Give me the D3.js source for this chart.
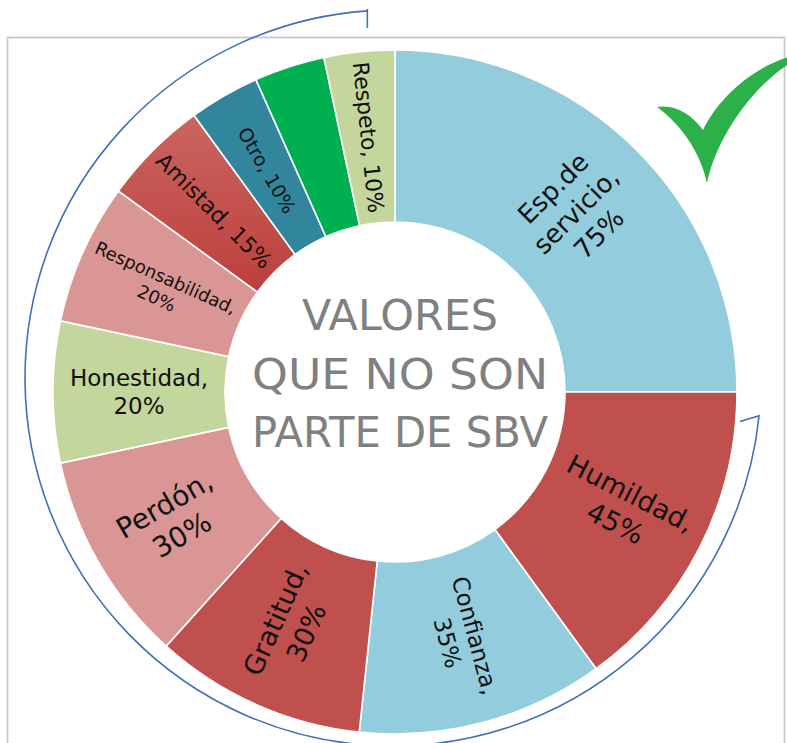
<!DOCTYPE html>
<html>
<head>
<meta charset="utf-8">
<script src="https://cdn.jsdelivr.net/npm/d3@7"></script>
<style>
  html, body { margin: 0; padding: 0; background: #ffffff; }
  svg { display: block; }
</style>
</head>
<body>
<svg id="chart" width="787" height="743"></svg>
<script>
// ---- data ----
const categories = ["Esp.de servicio", "Humildad", "Confianza", "Gratitud", "Perdón", "Honestidad",
                    "Responsabilidad", "Amistad", "Otro", "", "Respeto"];
const values = [75, 45, 35, 30, 30, 20, 20, 15, 10, 10, 10];
const nameLines = [["Esp.de", "servicio,"], ["Humildad,"], ["Confianza,"], ["Gratitud,"], ["Perdón,"],
                   ["Honestidad,"], ["Responsabilidad,"], ["Amistad,"], ["Otro,"], [], ["Respeto,"]];
const singleLine = [false, false, false, false, false, false, false, true, true, true, true];
const colors = ["#93CDDD", "#C0504D", "#93CDDD", "#C0504D", "#D99694", "#C3D69B",
                "#D99694", "url(#gradAmistad)", "#31859C", "#00B050", "#C3D69B"];
const fontSizes = [26, 27, 23, 27, 28, 23, 18, 22, 19, 0, 22];
const titleLines = ["VALORES", "QUE NO SON", "PARTE DE SBV"];

// ---- layout ----
const svg = d3.select("#chart");
const cx = 395, cy = 392;
const innerR = 170, outerR = 342;

const defs = svg.append("defs");
const g1 = defs.append("linearGradient").attr("id", "gradAmistad")
  .attr("x1", 0).attr("y1", 0).attr("x2", 0).attr("y2", 1);
g1.append("stop").attr("offset", "0%").attr("stop-color", "#CB6561");
g1.append("stop").attr("offset", "100%").attr("stop-color", "#BC3F3B");

// frame
svg.append("rect")
  .attr("x", 7.5).attr("y", 37.5).attr("width", 777).attr("height", 740)
  .attr("fill", "none").attr("stroke", "#c8c8c8").attr("stroke-width", 1.8);

const data = categories.map((c, i) => ({ name: c, value: values[i], i }));
const pie = d3.pie().value(d => d.value).sort(null).startAngle(0).endAngle(2 * Math.PI);
const arcs = pie(data);
const arc = d3.arc().innerRadius(innerR).outerRadius(outerR);

const gChart = svg.append("g").attr("transform", `translate(${cx},${cy})`);

gChart.selectAll("path.slice")
  .data(arcs)
  .join("path")
  .attr("class", "slice")
  .attr("d", arc)
  .attr("fill", d => colors[d.data.i])
  .attr("stroke", "#ffffff")
  .attr("stroke-width", 1.6);

// labels
const labelGroups = gChart.selectAll("g.label")
  .data(arcs.filter(d => d.data.name !== ""))
  .join("g")
  .attr("class", "label")
  .attr("transform", d => {
    const [x, y] = arc.centroid(d);
    const midDeg = ((d.startAngle + d.endAngle) / 2) * 180 / Math.PI;
    let rot = midDeg - 90;
    if (midDeg > 180) rot -= 180;
    return `translate(${x},${y}) rotate(${rot})`;
  });

labelGroups.each(function (d) {
  const i = d.data.i;
  const fs = fontSizes[i];
  const pct = d.data.value + "%";
  const lines = singleLine[i] ? [nameLines[i].concat([pct]).join(" ")] : nameLines[i].concat([pct]);
  const lh = fs * 1.24;
  const t = d3.select(this).append("text")
    .attr("text-anchor", "middle")
    .attr("font-family", "'DejaVu Sans', Lato, sans-serif")
    .attr("font-size", fs)
    .attr("fill", "#111");
  lines.forEach((ln, k) => {
    t.append("tspan")
      .attr("x", 0)
      .attr("y", (k - (lines.length - 1) / 2) * lh)
      .attr("dominant-baseline", "central")
      .text(ln);
  });
});

// center title
const titleWidths = [196, 296, 296];
const title = svg.append("g").attr("transform", `translate(${cx + 5},0)`);
titleLines.forEach((ln, k) => {
  title.append("text")
    .attr("x", 0)
    .attr("y", 330 + k * 58.5)
    .attr("text-anchor", "middle")
    .attr("font-family", "'DejaVu Sans', Lato, sans-serif")
    .attr("font-size", 43)
    .attr("fill", "#808080")
    .attr("textLength", titleWidths[k])
    .attr("lengthAdjust", "spacingAndGlyphs")
    .text(ln);
});

// blue surrounding arc with end hooks
const acx = 393, acy = 378, ar = 368;
const a0 = 6 * Math.PI / 180, a1 = 266 * Math.PI / 180; // screen angles
const p = d3.path();
p.arc(acx, acy, ar, a0, a1, false);
svg.append("path").attr("d", p.toString())
  .attr("fill", "none").attr("stroke", "#3F6FBF").attr("stroke-width", 1.6);
const sx = acx + ar * Math.cos(a1), sy = acy + ar * Math.sin(a1);
svg.append("line").attr("x1", sx).attr("y1", sy - 2).attr("x2", sx).attr("y2", sy + 17)
  .attr("stroke", "#3F6FBF").attr("stroke-width", 1.6);
const ex = acx + ar * Math.cos(a0), ey = acy + ar * Math.sin(a0);
svg.append("line").attr("x1", ex + 1).attr("y1", ey - 1).attr("x2", ex - 19).attr("y2", ey + 5)
  .attr("stroke", "#3F6FBF").attr("stroke-width", 1.6);

// green check mark (decoration)
svg.append("path")
  .attr("transform", "translate(657,107)")
  .attr("d", "M0,0 C16,-3 34,6 46,23 C60,-6 92,-38 132,-50 L132,-43 C98,-22 60,28 50,76 C44,48 27,20 0,0 Z")
  .attr("fill", "#2BB04A");
</script>
</body>
</html>
